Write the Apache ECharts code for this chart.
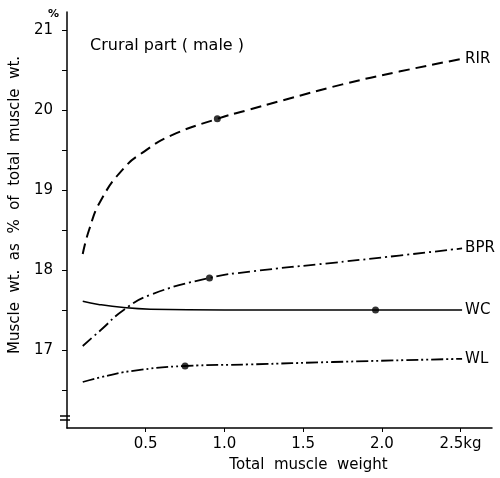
<!DOCTYPE html>
<html>
<head>
<meta charset="utf-8">
<script src="https://cdn.jsdelivr.net/npm/echarts@6/dist/echarts.min.js"></script>
<style>html,body{margin:0;padding:0;background:#fff}#main{width:500px;height:478px}</style>
</head>
<body>
<div id="main"></div>
<script>
var mychart = echarts.init(document.getElementById("main"));

// curve data (x: total muscle weight kg, y: %)
var rirData = [[0.1,18.2],[0.14,18.5],[0.215,18.87],[0.36,19.27],[0.49,19.48],[0.66,19.68],[0.955,19.89],[1.15,20.0],[1.37,20.12],[1.75,20.32],[2.11,20.48],[2.51,20.64]];
var bprData = [[0.1,17.05],[0.215,17.25],[0.36,17.5],[0.53,17.69],[0.905,17.9],[1.165,17.98],[1.69,18.09],[2.11,18.18],[2.51,18.27]];
var wcData  = [[0.1,17.61],[0.2,17.57],[0.36,17.53],[0.53,17.51],[1.0,17.5],[1.96,17.5],[2.51,17.5]];
var wlData  = [[0.1,16.6],[0.215,16.66],[0.42,16.74],[0.75,16.8],[1.165,16.82],[1.69,16.85],[2.51,16.89]];
// marked dots
var dotData = [[0.955,19.89],[0.905,17.9],[1.96,17.5],[0.75,16.8]];
// labels at the right end of each curve
var curveNames = ["RIR","BPR","WC","WL"];

var xTicks = [0.5,1.0,1.5,2.0,2.5];
var yLabels = [17,18,19,20,21];
var yTicks = [16.5,17,17.5,18,18.5,19,19.5,20,20.5,21];

var font = "DejaVu Sans";
var endLabel = function(name){
    return {show:true, formatter:name, color:'#000', fontFamily:font, fontSize:15, distance:3};
};

var option = {
    animation:false,
    title:{
        text:"Crural part ( male )",
        left:85, top:33,
        textStyle:{color:'#000', fontSize:16, fontWeight:'normal', fontFamily:font}
    },
    grid:{left:66, right:8, top:12, bottom:50},
    xAxis:{
        type:'value', min:0, max:2.7,
        name:'Total  muscle  weight', nameLocation:'middle', nameGap:30,
        nameTextStyle:{color:'#000', fontSize:15, fontFamily:font, padding:[0,0,0,58]},
        axisLine:{show:true, onZero:false, lineStyle:{color:'#000', width:1.5}},
        axisTick:{show:true, length:4, lineStyle:{color:'#000'}, customValues:xTicks},
        axisLabel:{color:'#000', fontSize:15, fontFamily:font, margin:9, customValues:xTicks,
            formatter:function(v){ return v===2.5 ? '2.5kg' : v.toFixed(1); }},
        splitLine:{show:false}
    },
    yAxis:{
        type:'value', min:16.025, max:21.225,
        name:'Muscle  wt.  as  %  of  total  muscle  wt.', nameLocation:'middle', nameGap:44,
        nameTextStyle:{color:'#000', fontSize:15, fontFamily:font, padding:[0,0,0,30]},
        axisLine:{show:true, lineStyle:{color:'#000', width:1.5}},
        axisTick:{show:true, length:5, lineStyle:{color:'#000'}, customValues:yTicks},
        axisLabel:{color:'#000', fontSize:15, fontFamily:font, margin:14, customValues:yLabels},
        splitLine:{show:false}
    },
    graphic:[
        {type:'text', left:48, top:9, style:{text:'%', fill:'#000', font:'bold 11px DejaVu Sans'}},
        {type:'rect', shape:{x:60, y:416, width:10, height:3}, style:{fill:'#fff'}},
        {type:'line', shape:{x1:60, y1:416, x2:70, y2:416}, style:{stroke:'#000', lineWidth:1.5}},
        {type:'line', shape:{x1:60, y1:420, x2:70, y2:420}, style:{stroke:'#000', lineWidth:1.5}}
    ],
    series:[
        {name:curveNames[0], type:'line', smooth:true, symbol:'none', data:rirData,
            lineStyle:{color:'#000', width:2, type:[11,6]},
            endLabel:endLabel(curveNames[0])},
        {name:curveNames[1], type:'line', smooth:true, symbol:'none', data:bprData,
            lineStyle:{color:'#000', width:1.8, type:[12,4,2,4]},
            endLabel:endLabel(curveNames[1])},
        {name:curveNames[2], type:'line', smooth:true, symbol:'none', data:wcData,
            lineStyle:{color:'#000', width:1.5, type:'solid'},
            endLabel:endLabel(curveNames[2])},
        {name:curveNames[3], type:'line', smooth:true, symbol:'none', data:wlData,
            lineStyle:{color:'#000', width:1.8, type:[12,3,2,3,2,3]},
            endLabel:endLabel(curveNames[3])},
        {type:'scatter', data:dotData, symbolSize:7, itemStyle:{color:'#000'}, z:5}
    ]
};
mychart.setOption(option);
</script>
</body>
</html>
